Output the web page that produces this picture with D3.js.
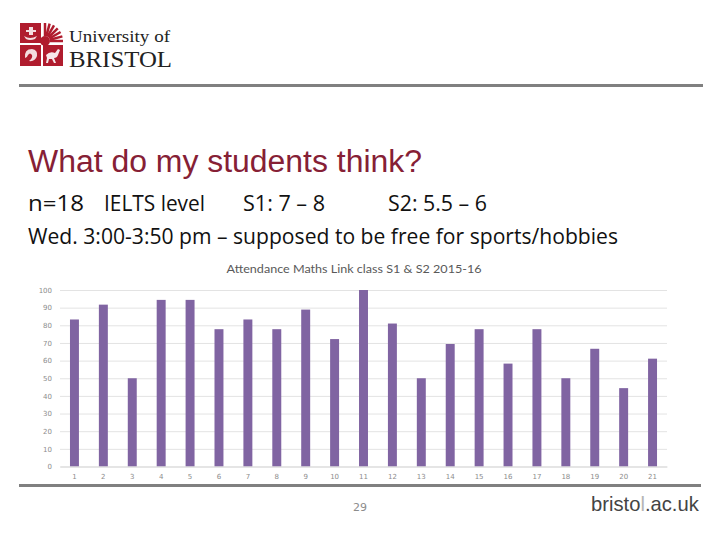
<!DOCTYPE html>
<html>
<head>
<meta charset="utf-8">
<script src="https://cdn.jsdelivr.net/npm/d3@7"></script>
<style>
html,body{margin:0;padding:0;background:#fff;}
svg{display:block;}
</style>
</head>
<body>
<svg id="c" width="720" height="540"></svg>
<script>
// ---- data ----
const categories = ["1","2","3","4","5","6","7","8","9","10","11","12","13","14","15","16","17","18","19","20","21"];
const attendance = [83.3, 91.7, 50, 94.4, 94.4, 77.8, 83.3, 77.8, 88.9, 72.2, 100, 81, 50, 69.4, 77.8, 58.3, 77.8, 50, 66.7, 44.4, 61.1];
const yTicks = [0,10,20,30,40,50,60,70,80,90,100];
const chartTitle = "Attendance Maths Link class S1 & S2 2015-16";
const slideTitle = "What do my students think?";
const infoLine1 = ["n=18", "IELTS level", "S1: 7 \u2013 8", "S2: 5.5 \u2013 6"];
const infoLine2 = "Wed. 3:00-3:50 pm \u2013 supposed to be free for sports/hobbies";
const pageNumber = "29";
const footerParts = ["bristo", "l", ".ac.uk"];

const svg = d3.select("#c");

// ---- header: logo ----
const logo = svg.append("g");
const red = "#b01c2e";
logo.append("rect").attr("x",20).attr("y",23).attr("width",21).attr("height",20).attr("fill",red);
logo.append("rect").attr("x",20).attr("y",45).attr("width",21).attr("height",21).attr("fill",red);
logo.append("rect").attr("x",43).attr("y",45).attr("width",20).attr("height",21).attr("fill",red);
logo.append("path").attr("d","M24,36 Q30,40 37,36 L35,39 Q30,41 26,39 Z M29,27 L33,27 L33,35 L29,35 Z M26,30 L36,30 L36,32 L26,32 Z").attr("fill","#fff").attr("opacity",0.85);
const sun = logo.append("g");
sun.append("circle").attr("cx",45).attr("cy",41).attr("r",5).attr("fill",red);
d3.range(7).forEach(i=>{
  const a = -Math.PI/2 + i*(Math.PI/2)/6;
  const x1 = 45 + 5*Math.cos(a), y1 = 41 + 5*Math.sin(a);
  const x2 = 45 + 18*Math.cos(a), y2 = 41 + 18*Math.sin(a);
  sun.append("line").attr("x1",x1).attr("y1",y1).attr("x2",x2).attr("y2",y2).attr("stroke",red).attr("stroke-width",2.5);
});
logo.append("path").attr("d","M25,58 Q24,49 32,49 Q38,50 37,56 Q35,62 29,61 Q33,58 32,55 Q30,52 28,55 Q27,58 25,58 Z").attr("fill","#fff").attr("opacity",0.85);
logo.append("path").attr("d","M46,55 Q50,51 55,53 L58,49 L60,50 L58,55 Q57,58 54,58 L56,63 L54,63 L52,59 L49,59 L48,63 L46,63 L47,58 Z").attr("fill","#fff").attr("opacity",0.9);

svg.append("text").attr("x",69).attr("y",42)
  .attr("font-family","Liberation Serif, DejaVu Serif, serif").attr("font-size",16.5).attr("fill","#222")
  .attr("textLength",101).attr("lengthAdjust","spacingAndGlyphs")
  .text("University of");
svg.append("text").attr("x",69).attr("y",66.5)
  .attr("font-family","Liberation Serif, DejaVu Serif, serif").attr("font-size",23).attr("fill","#222")
  .attr("textLength",103).attr("lengthAdjust","spacingAndGlyphs")
  .text("BRISTOL");

svg.append("rect").attr("x",19).attr("y",84).attr("width",684).attr("height",3).attr("fill","#808080");

// ---- slide title & info ----
svg.append("text").attr("x",28).attr("y",172)
  .attr("font-family","Liberation Sans, Arial, sans-serif").attr("font-size",31).attr("fill","#862035")
  .attr("textLength",394).attr("lengthAdjust","spacingAndGlyphs")
  .text(slideTitle);

const infoX = [28, 104, 243, 388];
const infoW = [56, 101, 82, 99];
svg.append("g").selectAll("text").data(infoLine1).join("text")
  .attr("x",(d,i)=>infoX[i]).attr("y",211)
  .attr("font-family","Open Sans, Lato, sans-serif").attr("font-size",21).attr("fill","#111")
  .attr("textLength",(d,i)=>infoW[i]).attr("lengthAdjust","spacingAndGlyphs")
  .text(d=>d);
svg.append("text").attr("x",28).attr("y",244)
  .attr("font-family","Open Sans, Lato, sans-serif").attr("font-size",21).attr("fill","#111")
  .attr("textLength",590).attr("lengthAdjust","spacingAndGlyphs")
  .text(infoLine2);

// ---- chart ----
const plot = {left:60, right:667, top:290, bottom:466.5};
const x = d3.scaleBand().domain(categories).range([plot.left, plot.right]).paddingInner(0.69).paddingOuter(0.345);
const y = d3.scaleLinear().domain([0,100]).range([plot.bottom, plot.top]);

svg.append("text").attr("x",354).attr("y",273).attr("text-anchor","middle")
  .attr("font-family","Lato, Open Sans, sans-serif").attr("font-size",11.5).attr("fill","#595959")
  .attr("textLength",255).attr("lengthAdjust","spacingAndGlyphs")
  .text(chartTitle);

const yAxis = d3.axisLeft(y).tickValues(yTicks).tickSize(-(plot.right-plot.left)).tickPadding(8);
const gy = svg.append("g").attr("transform",`translate(${plot.left},0)`).call(yAxis);
gy.select(".domain").remove();
gy.selectAll(".tick line").attr("stroke","#e3e3e3").attr("stroke-width",1);
gy.selectAll(".tick text").attr("font-family","DejaVu Sans, sans-serif").attr("font-size",7).attr("fill","#8c8c8c");

svg.append("g").selectAll("rect").data(attendance).join("rect")
  .attr("x",(d,i)=>x(categories[i]))
  .attr("y",d=>y(d))
  .attr("width",x.bandwidth())
  .attr("height",d=>y(0)-y(d))
  .attr("fill","#8064a2");

const xAxis = d3.axisBottom(x).tickSize(0).tickPadding(8);
const gx = svg.append("g").attr("transform",`translate(0,${plot.bottom})`).call(xAxis);
gx.select(".domain").attr("stroke","#d9d9d9");
gx.selectAll(".tick text").attr("font-family","DejaVu Sans, sans-serif").attr("font-size",7).attr("fill","#8c8c8c");

// footer
svg.append("rect").attr("x",19).attr("y",484).attr("width",682).attr("height",3).attr("fill","#808080");
svg.append("text").attr("x",360).attr("y",511).attr("text-anchor","middle")
  .attr("font-family","DejaVu Sans, sans-serif").attr("font-size",11).attr("fill","#8c8c8c")
  .text(pageNumber);
const footColors = ["#444", "#b5b5b5", "#444"];
let fx = 591;
footerParts.forEach((p,i)=>{
  const t = svg.append("text").attr("x",fx).attr("y",511)
    .attr("font-family","Liberation Sans, Arial, sans-serif").attr("font-size",20.2).attr("fill",footColors[i])
    .text(p);
  fx += t.node().getComputedTextLength();
});
</script>
</body>
</html>
